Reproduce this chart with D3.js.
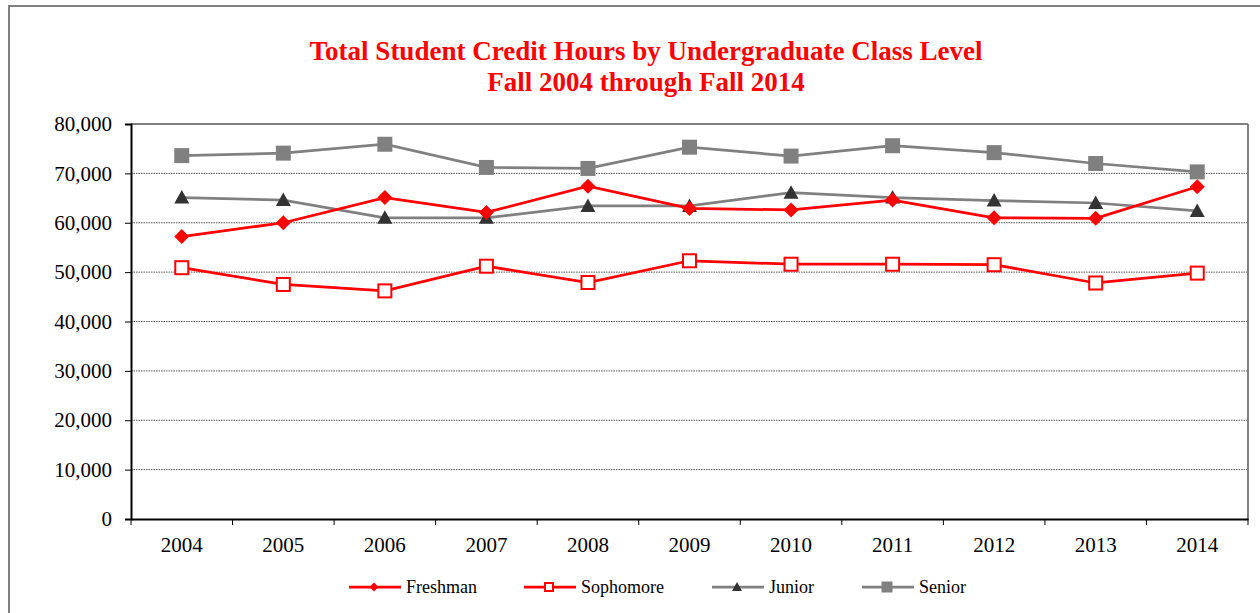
<!DOCTYPE html>
<html><head><meta charset="utf-8">
<script src="https://cdn.jsdelivr.net/npm/d3@7"></script>
<style>html,body{margin:0;padding:0;background:#fff;}svg{display:block;}</style>
</head><body>
<svg id="chart" width="1260" height="613"></svg>
<script>
const years = ["2004","2005","2006","2007","2008","2009","2010","2011","2012","2013","2014"];
const freshman  = [57200, 60000, 65100, 62100, 67400, 62900, 62600, 64600, 61000, 60900, 67300];
const sophomore = [50900, 47500, 46200, 51200, 47900, 52300, 51600, 51600, 51500, 47800, 49800];
const junior    = [65100, 64600, 61000, 61000, 63400, 63400, 66100, 65100, 64500, 64000, 62400];
const senior    = [73600, 74100, 75900, 71200, 71000, 75300, 73500, 75600, 74200, 72000, 70300];
const yTicks = [0,10000,20000,30000,40000,50000,60000,70000,80000];
const titleLines = ["Total Student Credit Hours by Undergraduate Class Level","Fall 2004 through Fall 2014"];

const series = [
  {name:"Freshman", values:freshman, color:"#ff0000", marker:"diamond", fill:"#ff0000"},
  {name:"Sophomore", values:sophomore, color:"#ff0000", marker:"square-open", fill:"#ffffff"},
  {name:"Junior", values:junior, color:"#808080", marker:"triangle", fill:"#333333"},
  {name:"Senior", values:senior, color:"#808080", marker:"square", fill:"#808080"}
];

const svg = d3.select("#chart");
const m = {left:131, right:1248, top:124, bottom:519};
const x = d3.scaleBand().domain(years).range([m.left, m.right]);
const y = d3.scaleLinear().domain([0,80000]).range([m.bottom, m.top]);
const font = "'Liberation Serif','Times New Roman',serif";

// outer border
svg.append("rect").attr("x",9).attr("y",6).attr("width",1262).attr("height",620)
  .attr("fill","none").attr("stroke","#808080").attr("stroke-width",2);

// title
svg.append("text").attr("x",646).attr("y",60).attr("text-anchor","middle")
  .attr("font-family",font).attr("font-weight","bold").attr("font-size",27).attr("fill","#ff0000")
  .selectAll("tspan").data(titleLines).join("tspan")
  .attr("x",646).attr("dy",(d,i)=>i===0?0:31).text(d=>d);

// grid lines
svg.append("g").selectAll("line").data(yTicks.filter(t=>t>0&&t<80000)).join("line")
  .attr("x1",m.left).attr("x2",m.right).attr("y1",d=>y(d)).attr("y2",d=>y(d))
  .attr("stroke","#555").attr("stroke-width",1).attr("stroke-dasharray","1.5,1");

// plot area border top/right
svg.append("line").attr("x1",m.left).attr("x2",m.right).attr("y1",m.top).attr("y2",m.top)
  .attr("stroke","#808080").attr("stroke-width",2);
svg.append("line").attr("x1",m.right).attr("x2",m.right).attr("y1",m.top).attr("y2",m.bottom)
  .attr("stroke","#808080").attr("stroke-width",2);

// y axis
const yAxis = svg.append("g").attr("transform",`translate(${m.left},0)`)
  .call(d3.axisLeft(y).tickValues(yTicks).tickFormat(d3.format(",")).tickSizeOuter(0).tickSize(6).tickPadding(13));
yAxis.select(".domain").attr("stroke","#000").attr("stroke-width",2);
yAxis.selectAll(".tick line").attr("stroke","#000");
yAxis.selectAll("text").attr("font-family",font).attr("font-size",21).attr("fill","#000");

// x axis
const xAxis = svg.append("g").attr("transform",`translate(0,${m.bottom})`)
  .call(d3.axisBottom(x).tickSize(0).tickPadding(18).tickSizeOuter(0));
xAxis.select(".domain").attr("stroke","#000").attr("stroke-width",2);
xAxis.selectAll("text").attr("font-family",font).attr("font-size",21).attr("fill","#000");
// boundary ticks
const bounds = years.map(d=>x(d)).concat([m.right]);
xAxis.append("g").selectAll("line").data(bounds).join("line")
  .attr("x1",d=>d).attr("x2",d=>d).attr("y1",0).attr("y2",6).attr("stroke","#000");

const cx = d => x(d) + x.bandwidth()/2;
const line = d3.line().x((d,i)=>cx(years[i])).y(d=>y(d));

function drawMarker(g, type, fill, stroke, px, py, s){
  if(type==="diamond"){
    g.append("path").attr("d",`M${px},${py-s}L${px+s},${py}L${px},${py+s}L${px-s},${py}Z`).attr("fill",fill);
  } else if(type==="square-open"){
    g.append("rect").attr("x",px-s+1).attr("y",py-s+1).attr("width",2*s-2).attr("height",2*s-2)
      .attr("fill","#fff").attr("stroke",stroke).attr("stroke-width",2);
  } else if(type==="triangle"){
    g.append("path").attr("d",`M${px},${py-s}L${px+s},${py+s*0.8}L${px-s},${py+s*0.8}Z`).attr("fill",fill);
  } else {
    g.append("rect").attr("x",px-s).attr("y",py-s).attr("width",2*s).attr("height",2*s).attr("fill",fill);
  }
}

const order = [3,2,1,0];
order.forEach(k=>{
  const s = series[k];
  const g = svg.append("g");
  g.append("path").attr("d",line(s.values)).attr("fill","none").attr("stroke",s.color).attr("stroke-width",2.75);
  s.values.forEach((v,i)=>drawMarker(g, s.marker, s.fill, s.color, cx(years[i]), y(v), 7.5));
});

// legend
const legX = [349, 524, 712, 862];
const legMS = [4.5, 5, 5, 5.5];
const legY = 587;
series.forEach((s,i)=>{
  const g = svg.append("g");
  g.append("line").attr("x1",legX[i]).attr("x2",legX[i]+52).attr("y1",legY).attr("y2",legY)
    .attr("stroke",s.color).attr("stroke-width",2.75);
  drawMarker(g, s.marker, s.fill, s.color, legX[i]+25, legY, legMS[i]);
  g.append("text").attr("x",legX[i]+57).attr("y",legY+6).attr("font-family",font).attr("font-size",18)
    .attr("fill","#000").text(s.name);
});
</script>
</body></html>
